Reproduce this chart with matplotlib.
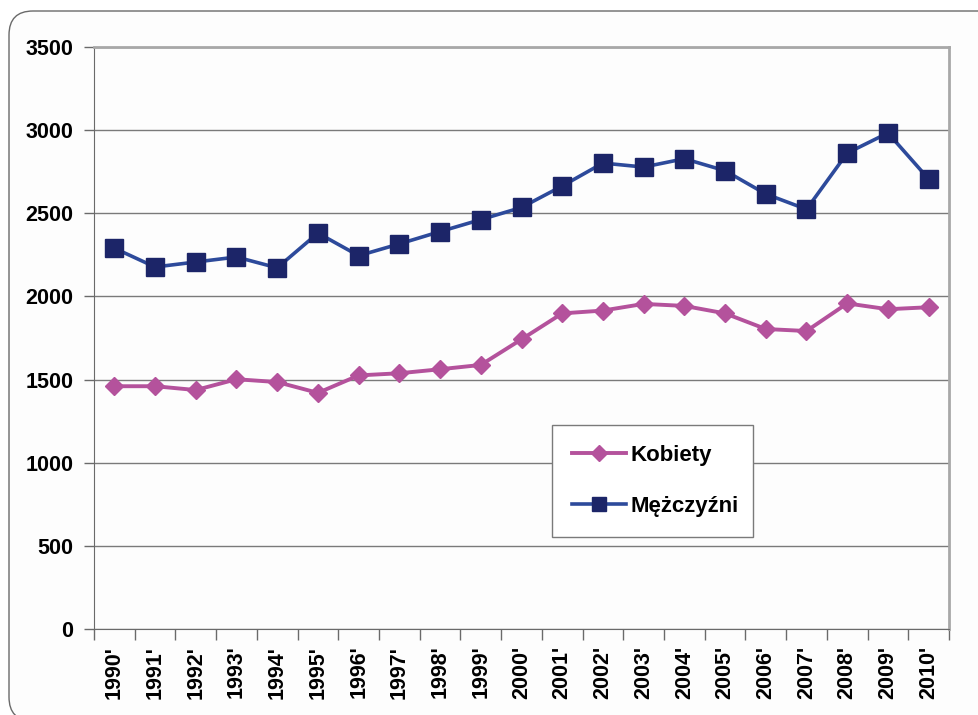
import matplotlib.pyplot as plt
import numpy as np
from matplotlib.patches import FancyBboxPatch

plt.rcParams['font.family'] = ['Liberation Sans', 'DejaVu Sans']
plt.rcParams['font.weight'] = 'bold'

# Dane
lata = [f"{r}'" for r in range(1990, 2011)]
kobiety = [1460, 1460, 1437, 1502, 1485, 1420, 1525, 1538, 1562, 1588, 1742,
           1898, 1915, 1955, 1943, 1898, 1804, 1792, 1958, 1923, 1935]
mezczyzni = [2290, 2177, 2207, 2237, 2172, 2381, 2245, 2316, 2390, 2462, 2535,
             2664, 2802, 2778, 2828, 2756, 2616, 2524, 2862, 2983, 2706]

kol_k = '#B4529C'
kol_m_linia = '#2D4A9B'
kol_m_znacznik = '#1C2568'

fig = plt.figure(figsize=(9.79, 7.15), dpi=100)
fig.patch.set_facecolor('white')

# zaokraglona ramka wokol wykresu (w calach)
ramka = FancyBboxPatch((0.09, -0.06), 12.0, 7.10,
                       boxstyle='round,pad=0,rounding_size=0.24',
                       transform=fig.dpi_scale_trans, facecolor='#FDFDFD',
                       edgecolor='#6A6A6A', linewidth=1.0, zorder=-5)
fig.patches.append(ramka)

ax = fig.add_axes([94 / 979, 86 / 715, 855 / 979, 582 / 715])
ax.set_facecolor('#FDFDFD')

x = np.arange(len(lata))
ax.plot(x, kobiety, color=kol_k, lw=2.8, marker='D', ms=9.5,
        mfc=kol_k, mec=kol_k, label='Kobiety', zorder=3)
ax.plot(x, mezczyzni, color=kol_m_linia, lw=2.6, marker='s', ms=12.5,
        mfc=kol_m_znacznik, mec=kol_m_znacznik, label='Mężczyźni', zorder=3)

ax.set_xlim(-0.5, len(lata) - 0.5)
ax.set_ylim(0, 3500)
ax.set_yticks(np.arange(0, 3501, 500))
ax.yaxis.grid(True, color='#7A7A7A', lw=1.0)
ax.set_axisbelow(True)

ax.set_xticks(x)
ax.set_xticklabels(lata, rotation=90, fontsize=15.5, fontweight='bold')
ax.set_xticks(np.arange(-0.5, len(lata), 1), minor=True)
ax.tick_params(axis='x', which='major', length=0, pad=12)
ax.tick_params(axis='x', which='minor', length=8, width=1, color='#6A6A6A',
               direction='out')
ax.tick_params(axis='y', length=7, width=1, color='#6A6A6A', pad=8,
               labelsize=15.5)
for t in ax.get_yticklabels():
    t.set_fontweight('bold')

ax.spines['left'].set_color('#6A6A6A')
ax.spines['bottom'].set_color('#6A6A6A')
ax.spines['top'].set_color('#A8A8A8')
ax.spines['right'].set_color('#A8A8A8')
ax.spines['top'].set_linewidth(2)
ax.spines['right'].set_linewidth(2)

leg = ax.legend(loc='lower left', bbox_to_anchor=(0.536, 0.158, 0.235, 0.184),
                mode='expand', fancybox=False, framealpha=1,
                edgecolor='#7A7A7A', prop={'size': 16, 'weight': 'bold'},
                handlelength=2.4, handletextpad=0.2, labelspacing=1.35,
                borderpad=0.9, borderaxespad=0, markerscale=0.85)
leg.get_frame().set_linewidth(1.0)

fig.savefig('out.png', dpi=100)
